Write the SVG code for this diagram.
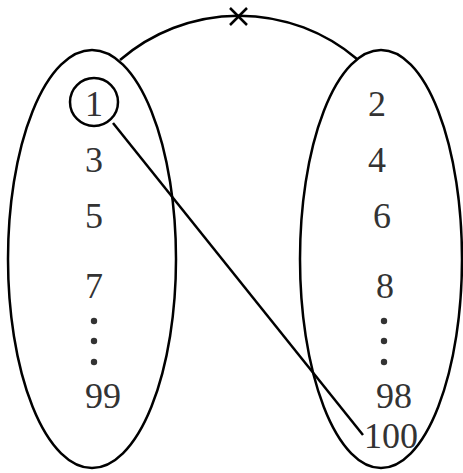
<svg xmlns="http://www.w3.org/2000/svg" width="463" height="473" viewBox="0 0 463 473">
<style>
.s{fill:none;stroke:#000;stroke-width:2.5}
.t{font-family:"Liberation Serif","Times New Roman",serif;font-size:36px;fill:#333;text-anchor:middle}
.d{fill:#333}
</style>
<rect width="463" height="473" fill="#fff"/>
<g id="left-set">
<ellipse class="s" cx="92" cy="259" rx="84" ry="209"/>
</g>
<g id="right-set">
<ellipse class="s" cx="381" cy="259" rx="81" ry="209"/>
</g>
<g id="node-1"><circle class="s" cx="94" cy="102" r="24"/><text class="t" x="94" y="116">1</text></g>
<g id="node-3"><text class="t" x="94" y="172">3</text></g>
<g id="node-5"><text class="t" x="94" y="228">5</text></g>
<g id="node-7"><text class="t" x="94" y="298">7</text></g>
<g id="dots-left"><circle class="d" cx="94" cy="321" r="3.2"/><circle class="d" cx="94" cy="341" r="3.2"/><circle class="d" cx="94" cy="362" r="3.2"/></g>
<g id="node-99"><text class="t" x="103" y="408">99</text></g>
<g id="node-2"><text class="t" x="377" y="116">2</text></g>
<g id="node-4"><text class="t" x="377" y="172">4</text></g>
<g id="node-6"><text class="t" x="382" y="228">6</text></g>
<g id="node-8"><text class="t" x="385" y="298">8</text></g>
<g id="dots-right"><circle class="d" cx="384" cy="321" r="3.2"/><circle class="d" cx="384" cy="341" r="3.2"/><circle class="d" cx="384" cy="362" r="3.2"/></g>
<g id="node-98"><text class="t" x="394" y="408">98</text></g>
<g id="node-100"><text class="t" x="391" y="448">100</text></g>
<g id="connectors">
<path class="s" d="M120 60 A182 182 0 0 1 357 59"/>
<path class="s" d="M230 8 L247 25 M247 8 L230 25"/>
<path class="s" d="M113 123 L363 435"/>
</g>
</svg>
